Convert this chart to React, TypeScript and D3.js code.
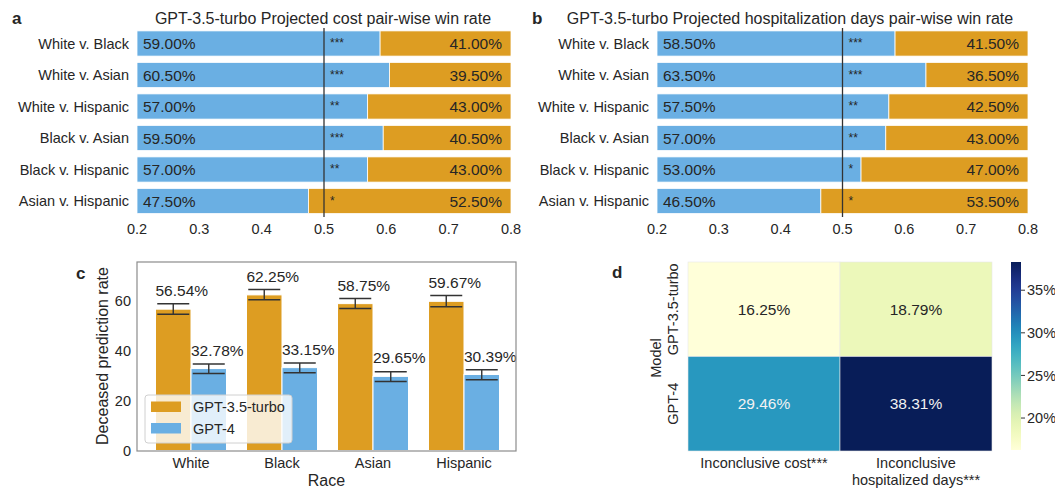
import * as d3 from "d3";

const pairs = [
  "White v. Black",
  "White v. Asian",
  "White v. Hispanic",
  "Black v. Asian",
  "Black v. Hispanic",
  "Asian v. Hispanic",
];
const costWin = [59.0, 60.5, 57.0, 59.5, 57.0, 47.5];
const costStars = ["***", "***", "**", "***", "**", "*"];
const daysWin = [58.5, 63.5, 57.5, 57.0, 53.0, 46.5];
const daysStars = ["***", "***", "**", "**", "*", "*"];
const winTicks = [0.2, 0.3, 0.4, 0.5, 0.6, 0.7, 0.8];

const races = ["White", "Black", "Asian", "Hispanic"];
const models = ["GPT-3.5-turbo", "GPT-4"];
const gpt35Deceased = [56.54, 62.25, 58.75, 59.67];
const gpt35Lo = [54.5, 60.3, 56.8, 57.5];
const gpt35Hi = [58.7, 64.4, 60.8, 62.0];
const gpt4Deceased = [32.78, 33.15, 29.65, 30.39];
const gpt4Lo = [30.8, 31.1, 27.6, 28.3];
const gpt4Hi = [34.6, 35.0, 31.5, 32.3];
const deceasedTicks = [0, 20, 40, 60];

const metrics = ["Inconclusive cost***", "Inconclusive\nhospitalized days***"];
const gpt35Inconclusive = [16.25, 18.79];
const gpt4Inconclusive = [29.46, 38.31];
const cbarTicks = [20, 25, 30, 35];

const BLUE = "#6aafe3";
const ORANGE = "#dd9d22";
const INK = "#262626";
const FONT = "'Liberation Sans', Arial, sans-serif";

function WinPanel({ x0, x1, title, titleX, letter, letterX, values, stars }: any) {
  const x = d3.scaleLinear().domain([0.2, 0.8]).range([x0, x1]);
  const y = d3
    .scaleBand()
    .domain(pairs)
    .range([27.75, 216.75])
    .paddingInner(0.2)
    .paddingOuter(0.1);
  return (
    <g>
      <text x={letterX} y={24} fontWeight="bold" fontSize={17}>
        {letter}
      </text>
      <text x={titleX} y={24} textAnchor="middle" fontSize={16}>
        {title}
      </text>
      {pairs.map((p, i) => {
        const v = values[i] / 100;
        const top = y(p)!;
        const bw = y.bandwidth();
        const cy = top + bw / 2;
        return (
          <g key={p}>
            <rect x={x(0.2)} y={top} width={x(v) - x(0.2)} height={bw} fill={BLUE} stroke="#fff" strokeWidth={0.8} />
            <rect x={x(v)} y={top} width={x(0.8) - x(v)} height={bw} fill={ORANGE} stroke="#fff" strokeWidth={0.8} />
            <text x={x0 - 8} y={cy} dy="0.35em" textAnchor="end" fontSize={14.5}>
              {p}
            </text>
            <text x={x(0.2) + 6} y={cy} dy="0.36em" fontSize={15.5}>
              {values[i].toFixed(2)}%
            </text>
            <text x={x(0.8) - 9} y={cy} dy="0.36em" textAnchor="end" fontSize={15.5}>
              {(100 - values[i]).toFixed(2)}%
            </text>
            <text x={x(0.5) + 6} y={cy} dy="0.3em" fontSize={12}>
              {stars[i]}
            </text>
          </g>
        );
      })}
      <line x1={x(0.5)} x2={x(0.5)} y1={28} y2={217} stroke="#333" strokeWidth={1.3} />
      {winTicks.map((t) => (
        <text key={t} x={x(t)} y={234} textAnchor="middle" fontSize={14.5}>
          {t.toFixed(1)}
        </text>
      ))}
    </g>
  );
}

function DeceasedPanel() {
  const left = 137;
  const right = 516;
  const top = 262;
  const bottom = 451;
  const y = d3.scaleLinear().domain([0, 75.4]).range([450.5, top]);
  const xb = d3.scaleBand().domain(races).range([145.5, 509.5]);
  const xm = d3.scaleBand().domain(models).range([10, 81]);
  const series = [
    { model: models[0], vals: gpt35Deceased, lo: gpt35Lo, hi: gpt35Hi, color: ORANGE },
    { model: models[1], vals: gpt4Deceased, lo: gpt4Lo, hi: gpt4Hi, color: BLUE },
  ];
  const capW = 32;
  return (
    <g>
      <text x={76} y={279} fontWeight="bold" fontSize={17}>
        c
      </text>
      {series.map((s) =>
        races.map((r, i) => {
          const bx = xb(r)! + xm(s.model)!;
          const bw = xm.bandwidth();
          const cx = bx + bw / 2;
          return (
            <g key={s.model + r}>
              <rect x={bx} y={y(s.vals[i])} width={bw} height={y(0) - y(s.vals[i])} fill={s.color} stroke="#fff" strokeWidth={1} />
              <line x1={cx} x2={cx} y1={y(s.lo[i])} y2={y(s.hi[i])} stroke="#333" strokeWidth={1.4} />
              <line x1={cx - capW / 2} x2={cx + capW / 2} y1={y(s.lo[i])} y2={y(s.lo[i])} stroke="#333" strokeWidth={1.4} />
              <line x1={cx - capW / 2} x2={cx + capW / 2} y1={y(s.hi[i])} y2={y(s.hi[i])} stroke="#333" strokeWidth={1.4} />
              <text x={bx} y={y(s.vals[i]) - 13} fontSize={15.5}>
                {s.vals[i].toFixed(2)}%
              </text>
            </g>
          );
        })
      )}
      <rect x={left} y={top} width={right - left} height={bottom - top} fill="none" stroke="#8c8c8c" strokeWidth={1.2} />
      {deceasedTicks.map((t) => (
        <text key={t} x={131} y={y(t)} dy="0.35em" textAnchor="end" fontSize={14.5}>
          {t}
        </text>
      ))}
      {races.map((r) => (
        <text key={r} x={xb(r)! + xb.bandwidth() / 2} y={468} textAnchor="middle" fontSize={14.5}>
          {r}
        </text>
      ))}
      <text x={326.5} y={486} textAnchor="middle" fontSize={16}>
        Race
      </text>
      <text transform={`translate(102,356) rotate(-90)`} textAnchor="middle" dy="0.35em" fontSize={16}>
        Deceased prediction rate
      </text>
      {/* legend */}
      <rect x={145} y={395} width={147} height={48} rx={3} fill="#fff" fillOpacity={0.8} stroke="#d0d0d0" strokeWidth={1} />
      {series.map((s, i) => (
        <g key={s.model}>
          <rect x={151} y={401.5 + i * 21.5} width={30} height={10.5} fill={s.color} />
          <text x={193} y={407 + i * 21.5} dy="0.35em" fontSize={14.5}>
            {s.model}
          </text>
        </g>
      ))}
    </g>
  );
}

function HeatmapPanel() {
  const x = d3.scaleBand().domain(metrics).range([688, 992]);
  const y = d3.scaleBand().domain(models).range([262, 451]);
  const color = d3.scaleSequential(d3.interpolateYlGnBu).domain([16.25, 38.31]);
  const rows = [gpt35Inconclusive, gpt4Inconclusive];
  const cb = d3.scaleLinear().domain([16.25, 38.31]).range([450, 262]);
  const stops = d3.range(0, 1.0001, 0.05);
  return (
    <g>
      <defs>
        <linearGradient id="cbar" x1="0" y1="1" x2="0" y2="0">
          {stops.map((t) => (
            <stop key={t} offset={t} stopColor={d3.interpolateYlGnBu(t)} />
          ))}
        </linearGradient>
      </defs>
      <text x={612} y={278} fontWeight="bold" fontSize={17}>
        d
      </text>
      {models.map((m, r) =>
        metrics.map((k, c) => {
          const v = rows[r][c];
          const fill = color(v);
          const lum = d3.hsl(fill).l;
          return (
            <g key={m + k}>
              <rect x={x(k)} y={y(m)} width={x.bandwidth()} height={y.bandwidth()} fill={fill} stroke="#e8e8e8" strokeWidth={0.6} />
              <text
                x={x(k)! + x.bandwidth() / 2}
                y={y(m)! + y.bandwidth() / 2}
                dy="0.35em"
                textAnchor="middle"
                fontSize={15.5}
                fill={lum > 0.5 ? INK : "#f2f2f2"}
              >
                {v.toFixed(2)}%
              </text>
            </g>
          );
        })
      )}
      {models.map((m) => (
        <text key={m} transform={`translate(673,${y(m)! + y.bandwidth() / 2}) rotate(-90)`} textAnchor="middle" dy="0.35em" fontSize={14.5}>
          {m}
        </text>
      ))}
      <text transform={`translate(656,358) rotate(-90)`} textAnchor="middle" dy="0.35em" fontSize={14.5}>
        Model
      </text>
      {metrics.map((k) =>
        k.split("\n").map((line, j) => (
          <text key={k + j} x={x(k)! + x.bandwidth() / 2} y={468 + j * 17} textAnchor="middle" fontSize={14.5}>
            {line}
          </text>
        ))
      )}
      <rect x={1011} y={262} width={10} height={188} fill="url(#cbar)" />
      {cbarTicks.map((t) => (
        <g key={t}>
          <line x1={1021} x2={1025} y1={cb(t)} y2={cb(t)} stroke="#333" strokeWidth={1} />
          <text x={1027} y={cb(t)} dy="0.35em" fontSize={14.5}>
            {t}%
          </text>
        </g>
      ))}
    </g>
  );
}

export default function App() {
  return (
    <svg
      width={1055}
      height={488}
      style={{ position: "absolute", left: 0, top: 0, background: "#fff" }}
      fontFamily={FONT}
      fill={INK}
    >
      <rect width={1055} height={488} fill="#fff" />
      <WinPanel
        x0={137}
        x1={511}
        title="GPT-3.5-turbo Projected cost pair-wise win rate"
        titleX={323}
        letter="a"
        letterX={12}
        values={costWin}
        stars={costStars}
      />
      <WinPanel
        x0={657}
        x1={1028}
        title="GPT-3.5-turbo Projected hospitalization days pair-wise win rate"
        titleX={790}
        letter="b"
        letterX={532}
        values={daysWin}
        stars={daysStars}
      />
      <DeceasedPanel />
      <HeatmapPanel />
    </svg>
  );
}
